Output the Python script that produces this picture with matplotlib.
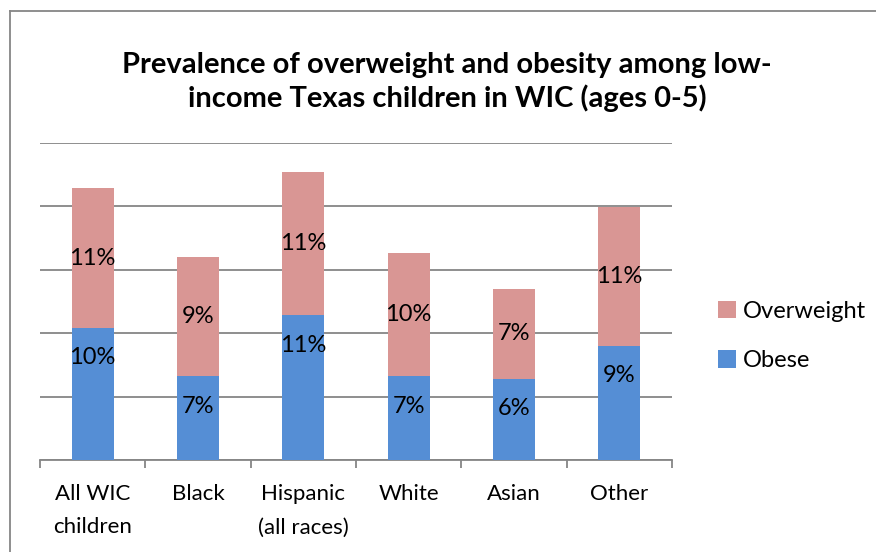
import matplotlib.pyplot as plt
import numpy as np
from matplotlib.lines import Line2D

categories = ["All WIC\nchildren", "Black", "Hispanic\n(all races)", "White", "Asian", "Other"]
obese = [10.4, 6.6, 11.4, 6.6, 6.4, 9.0]
overweight = [11.0, 9.4, 11.3, 9.7, 7.1, 10.9]

plt.rcParams['font.family'] = ['Lato', 'DejaVu Sans']

fig = plt.figure(figsize=(8.76, 5.52), dpi=100)
ax = fig.add_axes([40/876, 1-460/552, (672-40)/876, (460-142.7)/552])

x = np.arange(len(categories))
c_ob = '#558ED5'
c_ow = '#D99694'
w = 0.4
b1 = ax.bar(x, obese, w, color=c_ob, label='Obese', zorder=3)
b2 = ax.bar(x, overweight, w, bottom=obese, color=c_ow, label='Overweight', zorder=3)

for xi, o, v in zip(x, obese, overweight):
    ax.annotate(f"{o:.0f}%", (xi, o), xytext=(0, -21.5), textcoords='offset points',
                ha='center', va='center', fontsize=17, zorder=4)
    ax.text(xi, o + v/2, f"{v:.0f}%", ha='center', va='center', fontsize=17, zorder=4)

ax.set_xlim(-0.5, len(categories)-0.5)
ax.set_ylim(0, 25)
ax.set_yticks(np.arange(0, 26, 5))
ax.yaxis.grid(True, color='#868686', linewidth=1.3, zorder=0)
ax.tick_params(axis='y', left=False, labelleft=False)
for s in ['left', 'right', 'top']:
    ax.spines[s].set_visible(False)
ax.spines['bottom'].set_color('#868686')
ax.spines['bottom'].set_linewidth(1.3)
ax.set_xticks(np.arange(-0.5, len(categories), 1.0))
ax.set_xticklabels([])
ax.tick_params(axis='x', length=6, color='#868686', width=1.3, direction='out')
for xi, c in zip(x, categories):
    ax.text(xi, -0.075, c, transform=ax.get_xaxis_transform(), ha='center', va='top',
            fontsize=16, linespacing=1.85)

fig.text(447/876, 1-82/552, "Prevalence of overweight and obesity among low-\nincome Texas children in WIC (ages 0-5)",
         ha='center', va='center', fontsize=21, fontweight='bold', linespacing=1.3)

handles = [b2, b1]
fig.legend(handles, ['Overweight', 'Obese'], loc='center left', bbox_to_anchor=(697/876, 1-336/552),
           frameon=False, fontsize=17, handlelength=0.75, handleheight=0.75, labelspacing=1.2, handletextpad=0.3)

# chart area border (left and top edges visible)
fig.add_artist(Line2D([10/876, 10/876], [0, 1-11/552], transform=fig.transFigure,
                      color='#868686', linewidth=1.3))
fig.add_artist(Line2D([10/876, 1], [1-11/552, 1-11/552], transform=fig.transFigure,
                      color='#868686', linewidth=1.3))

fig.savefig('out.png', dpi=100)
